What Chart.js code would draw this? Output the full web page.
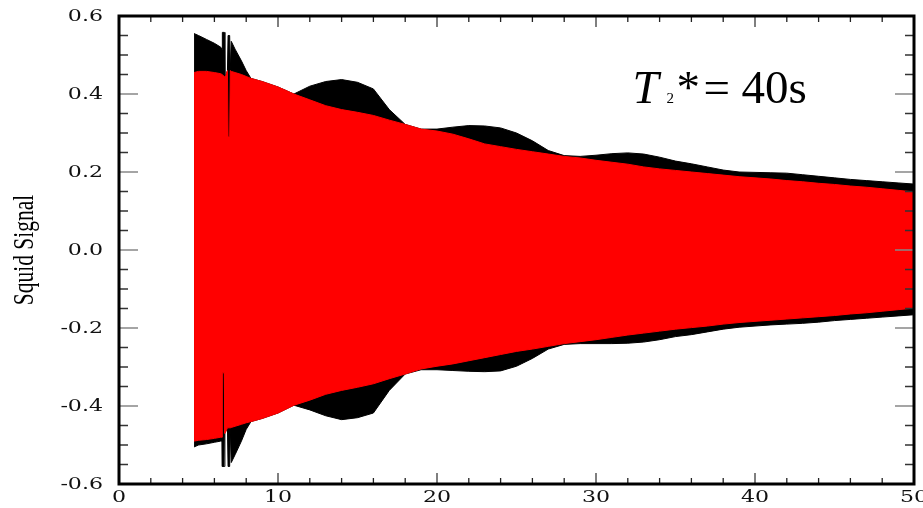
<!DOCTYPE html>
<html>
<head>
<meta charset="utf-8">
<script src="https://cdn.jsdelivr.net/npm/chart.js@4.4.1/dist/chart.umd.min.js"></script>
<style>
  html, body { margin: 0; padding: 0; background: #fff; }
  #wrap { width: 923px; height: 508px; }
</style>
</head>
<body>
<div id="wrap"><canvas id="squidChart" width="923" height="508"></canvas></div>
<script>
// time axis (s) shared by all envelope curves
const times = [4.72, 5, 5.5, 6, 6.4, 6.48, 6.5, 6.62, 6.66, 6.82, 6.86, 6.96, 7, 7.06, 7.3, 7.7, 8, 8.3, 9, 10,
    11, 12, 13, 14, 15, 16, 17, 18, 19, 20, 21, 22, 23, 24, 25, 26, 27, 28, 29, 30,
    31, 32, 33, 34, 35, 36, 37, 38, 39, 40, 41, 42, 43, 44, 45, 46, 47, 48, 49, 50];

// measured signal (black): upper / lower envelope
const blackUpper = [0.555, 0.55, 0.54, 0.53, 0.52, 0.515, 0.558, 0.558, 0.44, 0.46, 0.55, 0.55, 0.46, 0.535, 0.515, 0.485, 0.46, 0.44, 0.432, 0.418,
    0.4, 0.42, 0.432, 0.437, 0.43, 0.413, 0.36, 0.322, 0.31, 0.31,
    0.315, 0.319, 0.318, 0.313, 0.3, 0.28, 0.255, 0.242, 0.24, 0.243,
    0.247, 0.249, 0.246, 0.238, 0.228, 0.221, 0.213, 0.205, 0.2, 0.199,
    0.198, 0.197, 0.193, 0.189, 0.185, 0.181, 0.178, 0.175, 0.172, 0.169];
const blackLower = [-0.505, -0.5, -0.497, -0.493, -0.49, -0.49, -0.555, -0.555, -0.47, -0.456, -0.555, -0.555, -0.456, -0.545, -0.525, -0.49, -0.46, -0.44, -0.432, -0.418,
    -0.398, -0.41, -0.425, -0.435, -0.43, -0.418, -0.36, -0.318, -0.307, -0.307,
    -0.309, -0.311, -0.312, -0.31, -0.298, -0.278, -0.254, -0.242, -0.24, -0.24,
    -0.24, -0.239, -0.236, -0.23, -0.222, -0.217, -0.21, -0.203, -0.198, -0.195,
    -0.192, -0.19, -0.188, -0.185, -0.181, -0.178, -0.175, -0.172, -0.169, -0.166];

// T2* = 40s decay (red): upper / lower envelope
const redUpper = [0.455, 0.458, 0.458, 0.455, 0.452, 0.45, 0.45, 0.445, 0.44, 0.46, 0.29, 0.29, 0.46, 0.458, 0.455, 0.45, 0.445, 0.44, 0.432, 0.418,
    0.4, 0.385, 0.37, 0.36, 0.353, 0.345, 0.333, 0.322, 0.31, 0.305,
    0.297, 0.285, 0.272, 0.265, 0.258, 0.252, 0.246, 0.24, 0.236, 0.23,
    0.225, 0.22, 0.213, 0.208, 0.204, 0.2, 0.196, 0.192, 0.188, 0.185,
    0.182, 0.178, 0.175, 0.171, 0.168, 0.164, 0.161, 0.157, 0.153, 0.149];
const redLower = [-0.49, -0.488, -0.486, -0.483, -0.48, -0.48, -0.315, -0.315, -0.47, -0.456, -0.456, -0.456, -0.456, -0.455, -0.452, -0.447, -0.443, -0.44, -0.432, -0.418,
    -0.398, -0.385, -0.37, -0.36, -0.352, -0.343, -0.33, -0.318, -0.305, -0.298,
    -0.292, -0.284, -0.276, -0.268, -0.26, -0.254, -0.247, -0.24, -0.235, -0.23,
    -0.224, -0.218, -0.213, -0.208, -0.203, -0.199, -0.195, -0.19, -0.186, -0.183,
    -0.18, -0.177, -0.174, -0.171, -0.168, -0.164, -0.161, -0.157, -0.153, -0.149];

const xTickLabels = [0, 10, 20, 30, 40, 50];
const yTickLabels = [-0.6, -0.4, -0.2, 0.0, 0.2, 0.4, 0.6];
const yTitle = 'Squid Signal';

const toPoints = vals => vals.map((v, i) => ({ x: times[i], y: v }));
const isMajor = (v, list) => list.some(t => Math.abs(t - v) < 1e-6);

// draw text squeezed / stretched horizontally (the original fonts are not installed)
function stretchedText(ctx, text, x, y, sx, align) {
    ctx.save();
    ctx.translate(x, y);
    ctx.scale(sx, 1);
    ctx.textAlign = align;
    ctx.fillText(text, 0, 0);
    ctx.restore();
}

// inward tick marks on all four sides, heavy frame, labels, annotation
const framePlugin = {
    id: 'frame',
    afterDraw(chart) {
        const { ctx, chartArea: a, scales } = chart;
        ctx.save();
        scales.x.ticks.forEach(t => {
            const px = scales.x.getPixelForValue(t.value);
            const major = isMajor(t.value, xTickLabels);
            const len = major ? 11 : 6;
            ctx.strokeStyle = major ? '#555' : '#222';
            ctx.lineWidth = major ? 1.5 : 1.3;
            ctx.beginPath();
            ctx.moveTo(px, a.bottom); ctx.lineTo(px, a.bottom - len);
            ctx.moveTo(px, a.top); ctx.lineTo(px, a.top + len);
            ctx.stroke();
        });
        scales.y.ticks.forEach(t => {
            const py = scales.y.getPixelForValue(t.value);
            const major = isMajor(t.value, yTickLabels);
            const len = major ? 19 : 9;
            ctx.strokeStyle = major ? '#888' : '#333';
            ctx.lineWidth = major ? 1.6 : 1.3;
            ctx.beginPath();
            ctx.moveTo(a.left, py); ctx.lineTo(a.left + len, py);
            ctx.moveTo(a.right, py); ctx.lineTo(a.right - len, py);
            ctx.stroke();
        });
        ctx.strokeStyle = '#000';
        ctx.lineWidth = 3;
        ctx.strokeRect(a.left, a.top, a.right - a.left, a.bottom - a.top);

        // tick labels
        ctx.fillStyle = '#111';
        ctx.font = '17px "DejaVu Serif"';
        ctx.textBaseline = 'middle';
        yTickLabels.forEach(v => {
            stretchedText(ctx, v.toFixed(1), a.left - 16, scales.y.getPixelForValue(v) + 1, 1.3, 'right');
        });
        xTickLabels.forEach(v => {
            stretchedText(ctx, String(v), scales.x.getPixelForValue(v), a.bottom + 14, 1.3, 'center');
        });

        // axis title, condensed
        ctx.save();
        ctx.translate(a.left - 94, (a.top + a.bottom) / 2);
        ctx.rotate(-Math.PI / 2);
        ctx.fillStyle = '#000';
        ctx.font = '29px "Liberation Serif"';
        stretchedText(ctx, yTitle, 0, 0, 0.74, 'center');
        ctx.restore();

        // T2* = 40s label, anchored in data space
        const x0 = scales.x.getPixelForValue(32.3);
        const base = scales.y.getPixelForValue(0.378);
        ctx.fillStyle = '#000';
        ctx.textBaseline = 'alphabetic';
        ctx.textAlign = 'left';
        ctx.font = 'italic 47px "Liberation Serif"';
        ctx.fillText('T', x0, base);
        ctx.font = '15px "Liberation Serif"';
        ctx.fillText('2', x0 + 34, base);
        ctx.font = '47px "Liberation Serif"';
        ctx.fillText('*', x0 + 44, base);
        ctx.fillText('=', x0 + 71, base);
        ctx.fillText('40s', x0 + 109, base);
        ctx.restore();
    }
};

const ctx = document.getElementById('squidChart').getContext('2d');
new Chart(ctx, {
    type: 'line',
    data: {
        datasets: [
            { data: toPoints(redUpper), borderColor: '#ff0000', backgroundColor: '#ff0000', fill: '+1', order: 0 },
            { data: toPoints(redLower), borderColor: '#ff0000', backgroundColor: '#ff0000', fill: false, order: 0 },
            { data: toPoints(blackUpper), borderColor: '#000', backgroundColor: '#000', fill: '+1', order: 1 },
            { data: toPoints(blackLower), borderColor: '#000', backgroundColor: '#000', fill: false, order: 1 }
        ]
    },
    options: {
        responsive: false,
        animation: false,
        layout: { padding: { top: 16, right: 9, left: 0, bottom: 0 } },
        elements: {
            line: { borderWidth: 1, tension: 0 },
            point: { radius: 0, hitRadius: 0 }
        },
        plugins: { legend: { display: false }, tooltip: { enabled: false } },
        scales: {
            x: {
                type: 'linear', min: 0, max: 50,
                grid: { display: false, drawTicks: false, tickLength: 0 },
                border: { display: false },
                afterFit: s => { s.height = 24; },
                ticks: { stepSize: 2, autoSkip: false, display: false }
            },
            y: {
                type: 'linear', min: -0.6, max: 0.6,
                grid: { display: false, drawTicks: false, tickLength: 0 },
                border: { display: false },
                afterFit: s => { s.width = 119; },
                ticks: { stepSize: 0.05, autoSkip: false, display: false }
            }
        }
    },
    plugins: [framePlugin]
});
</script>
</body>
</html>
